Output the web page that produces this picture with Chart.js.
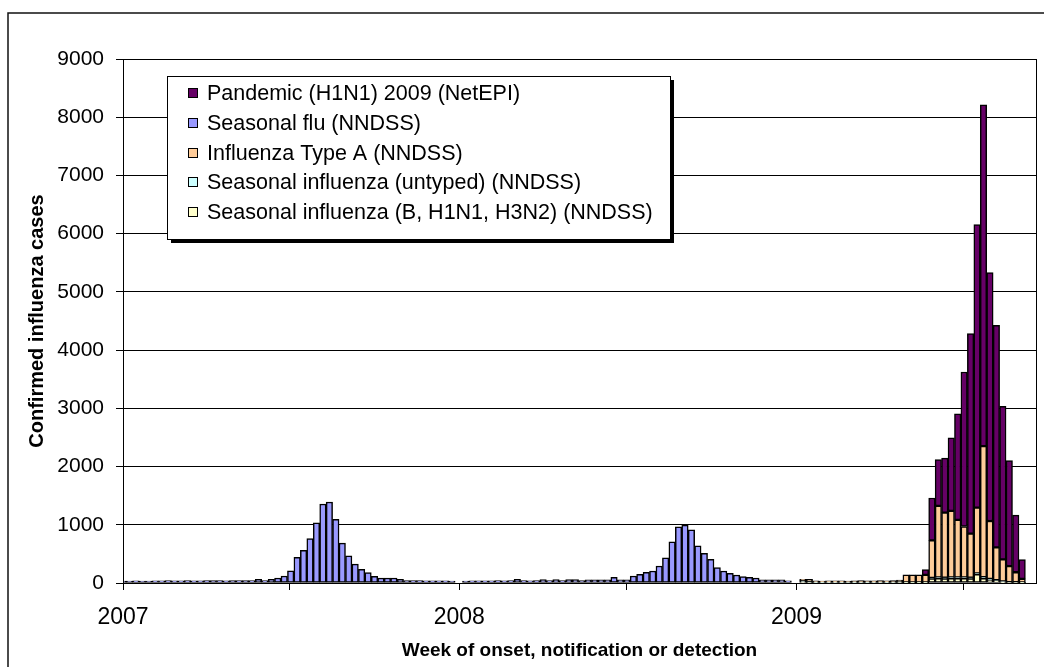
<!DOCTYPE html>
<html>
<head>
<meta charset="utf-8">
<script src="https://cdn.jsdelivr.net/npm/chart.js@4.4.1/dist/chart.umd.min.js"></script>
<style>
html,body{margin:0;padding:0;background:#fff;}
canvas{display:block;}
</style>
</head>
<body>
<canvas id="c" width="1044" height="667"></canvas>
<script>
// ---------- DATA ----------
const years = [2007, 2008, 2009];
const weeksReported = [52, 52, 36];            // weeks with data in each year
const xAxisStart = '2007-01-01';
const xAxisEnd = '2009-09-18';
const xTickDates = ['2007-01-01', '2007-07-01', '2008-01-01', '2008-07-01', '2009-01-01', '2009-07-01'];

const seriesNames = [
  'Seasonal influenza (B, H1N1, H3N2) (NNDSS)',
  'Seasonal influenza (untyped) (NNDSS)',
  'Influenza Type A (NNDSS)',
  'Seasonal flu (NNDSS)',
  'Pandemic (H1N1) 2009 (NetEPI)'
];

// Seasonal flu (NNDSS), weekly, 2007 and 2008
const seasonalFlu2007 = [
  32, 35, 38, 35, 33, 36, 38, 40, 36, 38, 40, 38, 36, 40, 42, 40, 38, 42, 40, 42, 40,
  63, 40, 63, 86, 120, 211, 439, 559, 764, 1032, 1357, 1391, 1094, 684, 467, 325, 234, 177, 114, 86, 86, 86, 63,
  42, 40, 40, 38, 38, 36, 36, 35
];
const seasonalFlu2008 = [
  0, 35, 36, 38, 36, 38, 40, 38, 40, 62, 40, 38, 40, 58, 40, 58, 40, 58, 58, 42,
  55, 55, 55, 55, 97, 55, 55, 120,
  149, 183, 206, 292, 434, 709, 966, 995, 915, 640, 509, 406, 263, 206, 166, 137, 109, 97, 86, 55, 55, 55, 55, 36
];
// 2009, weeks 1-36
const typeA2009 = [
  0, 25, 45, 20, 18, 20, 22, 20, 18, 20, 22, 20, 20, 22, 22, 24, 30,
  130, 130, 130, 130, 644, 1230, 1119, 1143, 990, 875, 758, 1130, 2250, 995, 562, 380, 275, 170, 60
];
const untyped2009 = [
  0, 20, 10, 8, 7, 8, 9, 8, 7, 8, 9, 8, 8, 9, 8, 9, 10,
  5, 5, 5, 5, 15, 15, 15, 15, 15, 15, 15, 15, 20, 15, 10, 10, 5, 5, 5
];
const typedBH1H3_2009 = [
  0, 20, 10, 8, 8, 9, 8, 9, 9, 8, 9, 8, 9, 9, 8, 9, 10,
  5, 5, 5, 5, 74, 80, 75, 80, 80, 80, 75, 150, 80, 55, 40, 15, 10, 10, 5
];
const pandemic2009 = [
  0, 0, 0, 0, 0, 0, 0, 0, 0, 0, 0, 0, 0, 0, 0, 0, 0, 0, 0, 0,
  90, 727, 793, 935, 1256, 1822, 2654, 3435, 4863, 5861, 4268, 3815, 2628, 1814, 980, 333
];

// ---------- BUILD ----------
const FONT = "'Liberation Sans', Arial, Helvetica, sans-serif";
function dayNumber(iso) {
  const p = iso.split('-').map(Number);
  const base = xAxisStart.split('-').map(Number);
  return (Date.UTC(p[0], p[1] - 1, p[2]) - Date.UTC(base[0], base[1] - 1, base[2])) / 86400000;
}
// week w of year Y is dated 1 January Y + 7(w-1) days
const weekDays = [];
years.forEach((y, i) => {
  for (let w = 0; w < weeksReported[i]; w++) weekDays.push(dayNumber(y + '-01-01') + 7 * w);
});
function byYear(parts) {
  const out = [];
  years.forEach((y, i) => {
    const a = parts[y];
    for (let w = 0; w < weeksReported[i]; w++) out.push(a ? a[w] : null);
  });
  return out.map((v, k) => ({x: weekDays[k], y: v}));
}

const seriesData = [
  byYear({2009: typedBH1H3_2009}),
  byYear({2009: untyped2009}),
  byYear({2009: typeA2009}),
  byYear({2007: seasonalFlu2007, 2008: seasonalFlu2008}),
  byYear({2009: pandemic2009})
];
const seriesColors = ['#FFFFCC', '#CCFFFF', '#FFCC99', '#9999FF', '#660066'];

const datasets = seriesNames.map((name, i) => ({
  label: name,
  data: seriesData[i],
  backgroundColor: seriesColors[i],
  borderColor: '#000000',
  borderWidth: 1.5,
  borderSkipped: false,
  barPercentage: 1,
  categoryPercentage: 1,
  clip: 0
}));

const decorations = {
  id: 'decorations',
  beforeDraw(chart) {
    const ctx = chart.ctx;
    ctx.save();
    ctx.fillStyle = '#ffffff';
    ctx.fillRect(0, 0, chart.width, chart.height);
    ctx.strokeStyle = '#111';
    ctx.lineWidth = 1.5;
    ctx.beginPath();
    ctx.moveTo(8, chart.height + 5);
    ctx.lineTo(8, 13);
    ctx.lineTo(chart.width + 5, 13);
    ctx.stroke();
    ctx.restore();
  },
  afterDatasetsDraw(chart) {
    const ctx = chart.ctx;
    const a = chart.chartArea;
    ctx.save();
    ctx.strokeStyle = '#000';
    ctx.lineWidth = 1;
    ctx.strokeRect(Math.round(a.left) + 0.5, Math.round(a.top) + 0.5, Math.round(a.right - a.left), Math.round(a.bottom - a.top));
    // legend box
    const lx = 167, ly = 76, lw = 503, lh = 163;
    ctx.fillStyle = '#000';
    ctx.fillRect(lx + 4, ly + 4, lw, lh);
    ctx.fillStyle = '#fff';
    ctx.fillRect(lx, ly, lw, lh);
    ctx.strokeRect(lx + 0.5, ly + 0.5, lw, lh);
    ctx.font = '21.5px ' + FONT;
    ctx.textBaseline = 'middle';
    ctx.textAlign = 'left';
    const ds = chart.data.datasets;
    for (let i = 0; i < ds.length; i++) {
      const d = ds[ds.length - 1 - i];
      const cy = 93 + 29.8 * i;
      ctx.fillStyle = d.backgroundColor;
      ctx.fillRect(188, Math.round(cy - 5), 10, 10);
      ctx.strokeStyle = '#000';
      ctx.strokeRect(188.5, Math.round(cy - 5) + 0.5, 9, 9);
      ctx.fillStyle = '#000';
      ctx.fillText(d.label, 207, cy + 1);
    }
    ctx.restore();
  }
};

new Chart(document.getElementById('c'), {
  type: 'bar',
  data: { datasets },
  options: {
    responsive: false,
    animation: false,
    devicePixelRatio: 1,
    layout: { padding: { top: 59, right: 8, bottom: 0, left: 0 } },
    plugins: { legend: { display: false }, tooltip: { enabled: false }, title: { display: false } },
    scales: {
      x: {
        type: 'linear',
        stacked: true,
        offset: false,
        min: dayNumber(xAxisStart),
        max: dayNumber(xAxisEnd),
        afterBuildTicks: (s) => { s.ticks = xTickDates.map(d => ({ value: dayNumber(d) })); },
        ticks: {
          autoSkip: false, maxRotation: 0, minRotation: 0, color: '#000', padding: 14,
          font: { family: FONT, size: 23 },
          callback: (v, i) => xTickDates[i].endsWith('-01-01') ? xTickDates[i].slice(0, 4) : ''
        },
        grid: { offset: false, drawOnChartArea: false, drawTicks: true, tickLength: 7, color: '#000', lineWidth: 1 },
        border: { display: true, color: '#000', width: 1 },
        title: {
          display: true, text: 'Week of onset, notification or detection', color: '#000',
          font: { family: FONT, size: 19, weight: 'bold' }, padding: { top: 0, bottom: 5 }
        },
        afterFit: (s) => { s.height = 84; }
      },
      y: {
        stacked: true,
        min: 0,
        max: 9000,
        ticks: {
          stepSize: 1000, color: '#000', padding: 12,
          font: { family: FONT, size: 21 },
          callback: (v) => String(v)
        },
        grid: { color: '#000', lineWidth: 1, drawTicks: true, tickLength: 7 },
        border: { display: true, color: '#000', width: 1 },
        title: {
          display: true, text: 'Confirmed influenza cases', color: '#000',
          font: { family: FONT, size: 20, weight: 'bold' }, padding: { top: 25, bottom: 0 }
        },
        afterFit: (s) => { s.width = 123; }
      }
    }
  },
  plugins: [decorations]
});
</script>
</body>
</html>
